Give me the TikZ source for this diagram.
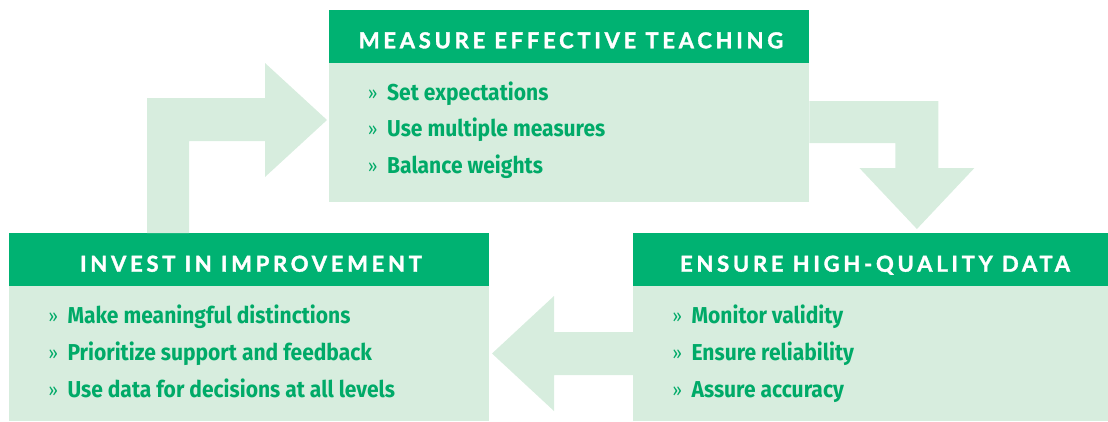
\documentclass[tikz,border=0pt]{standalone}
\usepackage{fontspec}
\usetikzlibrary{calc}
\newfontfamily\headfont[LetterSpace=17,BoldFeatures={FakeBold=1.6}]{Lato}
\newfontfamily\bodyfont[FakeStretch=0.915]{Fira Sans}
\definecolor{headgreen}{RGB}{0,178,114}
\definecolor{lightgreen}{RGB}{215,237,222}
\definecolor{textgreen}{RGB}{0,170,104}
\newcommand{\bul}[1]{\makebox[19pt][l]{{\fontsize{18}{18}\selectfont\mdseries\raisebox{1pt}{»}}}#1}
\tikzset{
  headbox/.style={fill=headgreen, draw=none, inner sep=0pt, anchor=north west},
  bodybox/.style={fill=lightgreen, draw=none, inner sep=0pt, anchor=north west},
  blockarrow/.style={fill=lightgreen, draw=none},
  headtext/.style={inner sep=0pt, anchor=base, text=white, font=\headfont\bfseries\fontsize{22}{22}\selectfont},
  bullettext/.style={inner sep=0pt, anchor=base west, text=textgreen, font=\bodyfont\bfseries\fontsize{23}{23}\selectfont}
}
\begin{document}
\begin{tikzpicture}[x=1pt,y=-1pt]
\useasboundingbox (0,0) rectangle (1108,421);
% boxes
\node[headbox, minimum width=480pt, minimum height=53pt] (mhead) at (329,10) {};
\node[bodybox, minimum width=480pt, minimum height=139pt] (mbody) at (329,63) {};
\node[headbox, minimum width=480pt, minimum height=53pt] (lhead) at (9,233) {};
\node[bodybox, minimum width=480pt, minimum height=135pt] (lbody) at (9,286) {};
\node[headbox, minimum width=475pt, minimum height=53pt] (rhead) at (633,233) {};
\node[bodybox, minimum width=475pt, minimum height=135pt] (rbody) at (633,286) {};
% block arrows (connectors)
\fill[blockarrow] ($(lhead.north west)+(138,0)$) -- ++(0,-135) -- ++(118,0) -- ++(0,-35)
  -- ++(62,57) -- ++(-62,57) -- ++(0,-36) -- ++(-76,0) -- ++(0,92) -- cycle;
\fill[blockarrow] ($(mbody.north east)+(0,38)$) -- ++(129,0) -- ++(0,67) -- ++(36,0)
  -- ++(-57.5,61) -- ++(-57.5,-61) -- ++(36,0) -- ++(0,-25) -- ++(-86,0) -- cycle;
\fill[blockarrow] ($(rbody.north west)+(0,46)$) -- ++(-79,0) -- ++(0,-36)
  -- ++(-62,57.5) -- ++(62,57.5) -- ++(0,-36) -- ++(79,0) -- cycle;
% headers
\node[headtext] (mtitle) at (571,48.3) {MEASURE EFFECTIVE TEACHING};
\node[headtext] (ltitle) at (251,271.7) {INVEST IN IMPROVEMENT};
\node[headtext] (rtitle) at (875,271.7) {ENSURE HIGH-QUALITY DATA};
% bullets
\node[bullettext] (m1) at (368,100) {\bul{Set expectations}};
\node[bullettext] (m2) at (368,136.7) {\bul{Use multiple measures}};
\node[bullettext] (m3) at (368,173.3) {\bul{Balance weights}};
\node[bullettext] (l1) at (48.3,323.3) {\bul{Make meaningful distinctions}};
\node[bullettext] (l2) at (48.3,360.3) {\bul{Prioritize support and feedback}};
\node[bullettext] (l3) at (48.3,397.3) {\bul{Use data for decisions at all levels}};
\node[bullettext] (r1) at (672.4,323.3) {\bul{Monitor validity}};
\node[bullettext] (r2) at (672.4,360.3) {\bul{Ensure reliability}};
\node[bullettext] (r3) at (672.4,397.3) {\bul{Assure accuracy}};
\end{tikzpicture}
\end{document}
